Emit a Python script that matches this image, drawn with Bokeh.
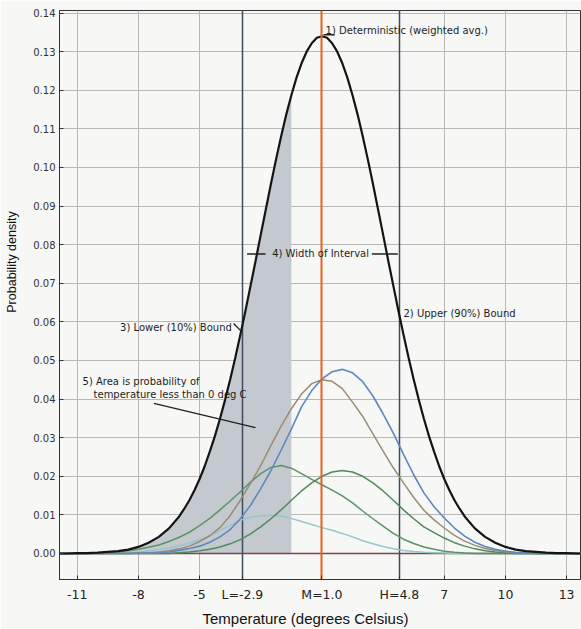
from bokeh.plotting import figure
from bokeh.models import FixedTicker, PrintfTickFormatter, Label, Range1d
from bokeh.embed import file_html
from bokeh.resources import INLINE

# ---------------- data ----------------
temps = [-12.0, -11.5, -11.0, -10.5, -10.0, -9.5, -9.0, -8.5, -8.0, -7.5,
         -7.0, -6.5, -6.0, -5.5, -5.0, -4.5, -4.0, -3.5, -3.0, -2.5,
         -2.0, -1.5, -1.0, -0.5, 0.0, 0.5, 1.0, 1.5, 2.0, 2.5,
         3.0, 3.5, 4.0, 4.5, 5.0, 5.5, 6.0, 6.5, 7.0, 7.5,
         8.0, 8.5, 9.0, 9.5, 10.0, 10.5, 11.0, 11.5, 12.0, 12.5,
         13.0, 13.5, 14.0]

# weighted-average curve, read more densely around its peak
avg_temps = [-12.0, -11.5, -11.0, -10.5, -10.0, -9.5, -9.0, -8.5, -8.0, -7.5,
             -7.0, -6.5, -6.0, -5.75, -5.5, -5.25, -5.0, -4.75, -4.5, -4.25,
             -4.0, -3.75, -3.5, -3.25, -3.0, -2.75, -2.5, -2.25, -2.0, -1.75,
             -1.5, -1.25, -1.0, -0.75, -0.5, -0.25, 0.0, 0.25, 0.5, 0.75,
             1.0, 1.25, 1.5, 1.75, 2.0, 2.25, 2.5, 2.75, 3.0, 3.25,
             3.5, 3.75, 4.0, 4.25, 4.5, 4.75, 5.0, 5.25, 5.5, 5.75,
             6.0, 6.25, 6.5, 6.75, 7.0, 7.25, 7.5, 7.75, 8.0, 8.5,
             9.0, 9.5, 10.0, 10.5, 11.0, 11.5, 12.0, 12.5, 13.0, 13.5,
             14.0]
weighted_avg = [0.0000, 0.0000, 0.0001, 0.0001, 0.0002, 0.0004, 0.0006, 0.0010, 0.0017, 0.0028,
                0.0043, 0.0065, 0.0096, 0.0116, 0.0138, 0.0164, 0.0193, 0.0226, 0.0264, 0.0304,
                0.0349, 0.0398, 0.0451, 0.0507, 0.0567, 0.0629, 0.0694, 0.0759, 0.0826, 0.0892,
                0.0958, 0.1021, 0.1081, 0.1137, 0.1187, 0.1232, 0.1270, 0.1300, 0.1322, 0.1336,
                0.1340, 0.1336, 0.1322, 0.1300, 0.1270, 0.1232, 0.1187, 0.1137, 0.1081, 0.1021,
                0.0958, 0.0892, 0.0826, 0.0759, 0.0694, 0.0629, 0.0567, 0.0507, 0.0451, 0.0398,
                0.0349, 0.0304, 0.0264, 0.0226, 0.0193, 0.0164, 0.0138, 0.0116, 0.0096, 0.0065,
                0.0043, 0.0028, 0.0017, 0.0010, 0.0006, 0.0004, 0.0002, 0.0001, 0.0001, 0.0000,
                0.0000]

member_blue = [0, 0, 0, 0, 0, 0, 0, 0, 0.0001, 0.0001,
               0.0002, 0.0004, 0.0008, 0.0013, 0.0019, 0.0029, 0.0043, 0.0062, 0.0090, 0.0125,
               0.0168, 0.0215, 0.0268, 0.0322, 0.0380, 0.0422, 0.0452, 0.0471, 0.0477, 0.0468,
               0.0445, 0.0408, 0.0362, 0.0312, 0.0257, 0.0204, 0.0157, 0.0121, 0.0092, 0.0066,
               0.0045, 0.0029, 0.0018, 0.0011, 0.0006, 0.0003, 0.0001, 0, 0, 0,
               0, 0, 0]

member_tan = [0, 0, 0, 0, 0, 0, 0, 0, 0.0001, 0.0002,
              0.0004, 0.0007, 0.0012, 0.0019, 0.0031, 0.0046, 0.0067, 0.0098, 0.0138, 0.0182,
              0.0228, 0.0280, 0.0330, 0.0375, 0.0413, 0.0440, 0.0450, 0.0446, 0.0427, 0.0392,
              0.0355, 0.0310, 0.0265, 0.0222, 0.0183, 0.0145, 0.0112, 0.0087, 0.0066, 0.0047,
              0.0032, 0.0021, 0.0013, 0.0008, 0.0004, 0.0002, 0.0001, 0, 0, 0,
              0, 0, 0]

member_green_a = [0, 0, 0, 0, 0.0001, 0.0002, 0.0004, 0.0007, 0.0011, 0.0016,
                  0.0022, 0.0031, 0.0042, 0.0055, 0.0072, 0.0091, 0.0113, 0.0136, 0.0160, 0.0185,
                  0.0207, 0.0223, 0.0228, 0.0221, 0.0207, 0.0192, 0.0178, 0.0164, 0.0149, 0.0131,
                  0.0110, 0.0090, 0.0071, 0.0052, 0.0037, 0.0026, 0.0017, 0.0011, 0.0006, 0.0003,
                  0.0001, 0, 0, 0, 0, 0, 0, 0, 0, 0,
                  0, 0, 0]

member_green_b = [0, 0, 0, 0, 0, 0, 0, 0, 0, 0,
                  0, 0, 0.0002, 0.0004, 0.0007, 0.0011, 0.0017, 0.0025, 0.0036, 0.0051,
                  0.0069, 0.0090, 0.0113, 0.0138, 0.0162, 0.0183, 0.0200, 0.0211, 0.0215, 0.0211,
                  0.0200, 0.0183, 0.0162, 0.0138, 0.0113, 0.0090, 0.0069, 0.0054, 0.0040, 0.0028,
                  0.0019, 0.0012, 0.0007, 0.0004, 0.0002, 0, 0, 0, 0, 0,
                  0, 0, 0]

member_cyan = [0, 0, 0, 0, 0, 0, 0.0001, 0.0002, 0.0004, 0.0007,
               0.0010, 0.0014, 0.0020, 0.0027, 0.0035, 0.0046, 0.0059, 0.0073, 0.0086, 0.0094,
               0.0098, 0.0099, 0.0097, 0.0091, 0.0083, 0.0075, 0.0067, 0.0060, 0.0052, 0.0043,
               0.0033, 0.0025, 0.0018, 0.0012, 0.0008, 0.0005, 0.0003, 0.0002, 0.0001, 0,
               0, 0, 0, 0, 0, 0, 0, 0, 0, 0,
               0, 0, 0]

baseline_level = 0.0
lower_bound = -2.9     # L (10%)
mean_temp = 1.0        # M
upper_bound = 4.8      # H (90%)
freeze_cut = -0.5      # right edge of the shaded area

x_ticks = [-11, -8, -5, -2.9, 1.0, 4.8, 7, 10, 13]
x_tick_labels = ["-11", "-8", "-5", "L=-2.9", "M=1.0", "H=4.8", "7", "10", "13"]
y_ticks = [0.00, 0.01, 0.02, 0.03, 0.04, 0.05, 0.06, 0.07, 0.08, 0.09, 0.10, 0.11, 0.12, 0.13, 0.14]

# ---------------- figure ----------------
BG = "#f7f7f5"
NB = "\u00a0"
p = figure(width=581, height=629, output_backend="svg", toolbar_location=None,
           x_range=Range1d(-11.87, 13.68), y_range=Range1d(-0.00674, 0.14067),
           min_border_left=59, min_border_right=1, min_border_top=10, min_border_bottom=50,
           background_fill_color=BG, border_fill_color=BG)
p.outline_line_color = "#333333"
p.outline_line_width = 1

# axes
p.xaxis.ticker = FixedTicker(ticks=x_ticks)
p.xaxis.major_label_overrides = {(int(t) if float(t).is_integer() else t): lab
                                 for t, lab in zip(x_ticks, x_tick_labels)}
p.xaxis.major_label_text_font = "DejaVu Sans"
p.xaxis.major_label_text_font_size = "12.5px"
p.xaxis.major_label_text_color = "#222222"
p.xaxis.major_label_standoff = 7
p.xaxis.major_tick_in = 4
p.xaxis.major_tick_out = 0
p.xaxis.minor_tick_line_color = None
p.xaxis.axis_line_color = "#333333"
p.xaxis.major_tick_line_color = "#333333"
p.xaxis.axis_label = "Temperature (degrees Celsius)" + NB * 7
p.xaxis.axis_label_text_font = "Liberation Sans"
p.xaxis.axis_label_text_font_size = "15px"
p.xaxis.axis_label_text_font_style = "normal"
p.xaxis.axis_label_text_color = "#111111"
p.xaxis.axis_label_standoff = 5

p.yaxis.ticker = FixedTicker(ticks=y_ticks)
p.yaxis.formatter = PrintfTickFormatter(format="%.2f")
p.yaxis.major_label_text_font = "DejaVu Sans"
p.yaxis.major_label_text_font_size = "10px"
p.yaxis.major_label_text_color = "#333333"
p.yaxis.major_label_standoff = 4
p.yaxis.major_tick_in = 4
p.yaxis.major_tick_out = 0
p.yaxis.minor_tick_line_color = None
p.yaxis.axis_line_color = "#333333"
p.yaxis.major_tick_line_color = "#333333"
p.yaxis.axis_label = NB * 19 + "Probability density"
p.yaxis.axis_label_text_font = "Liberation Sans"
p.yaxis.axis_label_text_font_size = "12.5px"
p.yaxis.axis_label_text_font_style = "normal"
p.yaxis.axis_label_text_color = "#111111"
p.yaxis.axis_label_standoff = 11

p.xgrid.ticker = FixedTicker(ticks=x_ticks)
p.ygrid.ticker = FixedTicker(ticks=y_ticks)
p.xgrid.grid_line_color = "#b8b8b8"
p.ygrid.grid_line_color = "#b8b8b8"

# shaded area under the weighted curve (temperature below freezing)
shade_x = [t for t in avg_temps if t <= freeze_cut]
shade_y = [v for t, v in zip(avg_temps, weighted_avg) if t <= freeze_cut]
p.varea(x=shade_x, y1=[baseline_level] * len(shade_x), y2=shade_y,
        fill_color="#c4c9cf", fill_alpha=1.0)

# lower / upper bound lines
p.vspan(x=[lower_bound, upper_bound], line_color="#3d4b5c", line_width=1.5)

# zero line
p.hspan(y=[baseline_level], line_color="#7d4452", line_width=1.5)

# ensemble members
p.line(temps, member_cyan, line_color="#93c7cc", line_width=1.5)
p.line(temps, member_green_a, line_color="#5a9466", line_width=1.5)
p.line(temps, member_green_b, line_color="#4f8a5c", line_width=1.5)
p.line(temps, member_tan, line_color="#9a8c74", line_width=1.5)
p.line(temps, member_blue, line_color="#5f88c0", line_width=1.6)

# weighted average
p.line(avg_temps, weighted_avg, line_color="#141414", line_width=2.2)

# deterministic (mean) line
p.vspan(x=[mean_temp], line_color="#e5621c", line_width=2)

# ---------------- annotations ----------------
ann_font = "DejaVu Sans"
ann_size = "10px"
ann_color = "#1e1e1e"

def note(x, y, text):
    p.add_layout(Label(x=x, y=y, text=text, text_font=ann_font, text_font_size=ann_size,
                       text_color=ann_color, text_align="left", text_baseline="middle"))

note(1.18, 0.1355, "1) Deterministic (weighted avg.)")
note(5.00, 0.0621, "2) Upper (90%) Bound")
note(-8.90, 0.0586, "3) Lower (10%) Bound")
note(-1.44, 0.0776, "4) Width of Interval")
note(-10.74, 0.0446, "5) Area is probability of")
note(-10.20, 0.0412, "temperature less than 0 deg C")

# leader lines
p.segment(x0=[1.08, -3.33, -2.67, 3.45, -7.24], y0=[0.1344, 0.0596, 0.0776, 0.0776, 0.0389],
          x1=[1.62, -3.00, -1.76, 4.72, -2.26], y1=[0.1344, 0.0578, 0.0776, 0.0776, 0.0326],
          line_color="#222222", line_width=1.4)

open("out.html", "w").write(file_html(p, INLINE))
